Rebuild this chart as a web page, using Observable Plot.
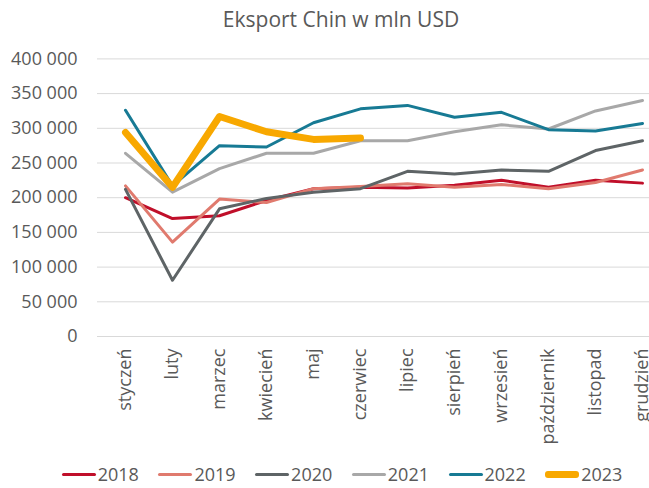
<!DOCTYPE html>
<html>
<head>
<meta charset="utf-8">
<script src="https://cdn.jsdelivr.net/npm/d3@7"></script>
<script src="https://cdn.jsdelivr.net/npm/@observablehq/plot@0.6"></script>
<style>
  html, body { margin: 0; padding: 0; background: #fff; overflow: hidden; }
  body { width: 649px; height: 488px; font-family: "Open Sans", sans-serif; color: #595959; }
  #title { height: 40px; position: relative; }
  #title span { position: absolute; left: 341px; top: 5px; transform: translateX(-50%); font-size: 21px; white-space: nowrap; }
  #legend { position: relative; height: 28px; }
  .item { position: absolute; top: 0; height: 28px; display: flex; align-items: center; font-size: 18px; }
  .sw { width: 34px; border-radius: 3px; margin-right: 2px; }
</style>
</head>
<body>
<div id="title"><span>Eksport Chin w mln USD</span></div>
<div id="chart"></div>
<div id="legend"></div>
<script>
const months = ["styczeń","luty","marzec","kwiecień","maj","czerwiec","lipiec","sierpień","wrzesień","październik","listopad","grudzień"];
const years = ["2018","2019","2020","2021","2022","2023"];
const colors = ["#C00F2A","#E07A6E","#5E6466","#A8A8A8","#177A94","#F8A800"];
const yTicks = [0,50000,100000,150000,200000,250000,300000,350000,400000];

const v2018 = [200000,170000,174000,196000,213000,215000,214000,218000,225000,215000,225000,221000];
const v2019 = [217000,136000,198000,193000,213000,216000,220000,215000,219000,213000,222000,240000];
const v2020 = [212000,81000,184000,199000,208000,213000,238000,234000,240000,238000,268000,282000];
const v2021 = [264000,208000,242000,264000,264000,282000,282000,295000,305000,299000,325000,340000];
const v2022 = [326000,217000,275000,273000,308000,328000,333000,316000,323000,298000,296000,307000];
const v2023 = [294000,215000,317000,295000,284000,286000];

const seriesValues = [v2018, v2019, v2020, v2021, v2022, v2023];
const rows = [];
seriesValues.forEach((vals, i) => vals.forEach((v, j) => rows.push({year: years[i], month: months[j], value: v})));

const fmt = d3.formatLocale({thousands: " ", grouping: [3], decimal: ","}).format(",");

const chart = Plot.plot({
  width: 649,
  height: 420,
  marginLeft: 97,
  marginRight: 0,
  marginTop: 18.4,
  marginBottom: 124,
  style: {fontFamily: "Open Sans, sans-serif", fontSize: "18px", color: "#595959", background: "white"},
  x: {type: "point", domain: months, range: [121.7, 645.3], padding: 0},
  y: {domain: [0, 400000]},
  color: {domain: years, range: colors},
  marks: [
    Plot.gridY(yTicks, {stroke: "#d9d9d9", strokeOpacity: 1, strokeWidth: 1}),
    Plot.axisY(yTicks, {tickSize: 0, tickPadding: 20, tickFormat: fmt, label: null}),
    Plot.axisX({tickSize: 0, tickPadding: 12, tickRotate: -90, label: null}),
    Plot.line(rows.filter(d => d.year !== "2023"), {x: "month", y: "value", z: "year", stroke: "year", strokeWidth: 3, strokeLinejoin: "round"}),
    Plot.line(rows.filter(d => d.year === "2023"), {x: "month", y: "value", z: "year", stroke: "year", strokeWidth: 7, strokeLinejoin: "round", strokeLinecap: "round"})
  ]
});
document.getElementById("chart").appendChild(chart);

const legend = document.getElementById("legend");
years.forEach((y, i) => {
  const it = document.createElement("div");
  it.className = "item";
  it.style.left = (61.7 + i * 96.7) + "px";
  const sw = document.createElement("div");
  sw.className = "sw";
  sw.style.height = (y === "2023" ? 7 : 3) + "px";
  sw.style.background = colors[i];
  const lb = document.createElement("span");
  lb.textContent = y;
  it.appendChild(sw);
  it.appendChild(lb);
  legend.appendChild(it);
});
</script>
</body>
</html>
